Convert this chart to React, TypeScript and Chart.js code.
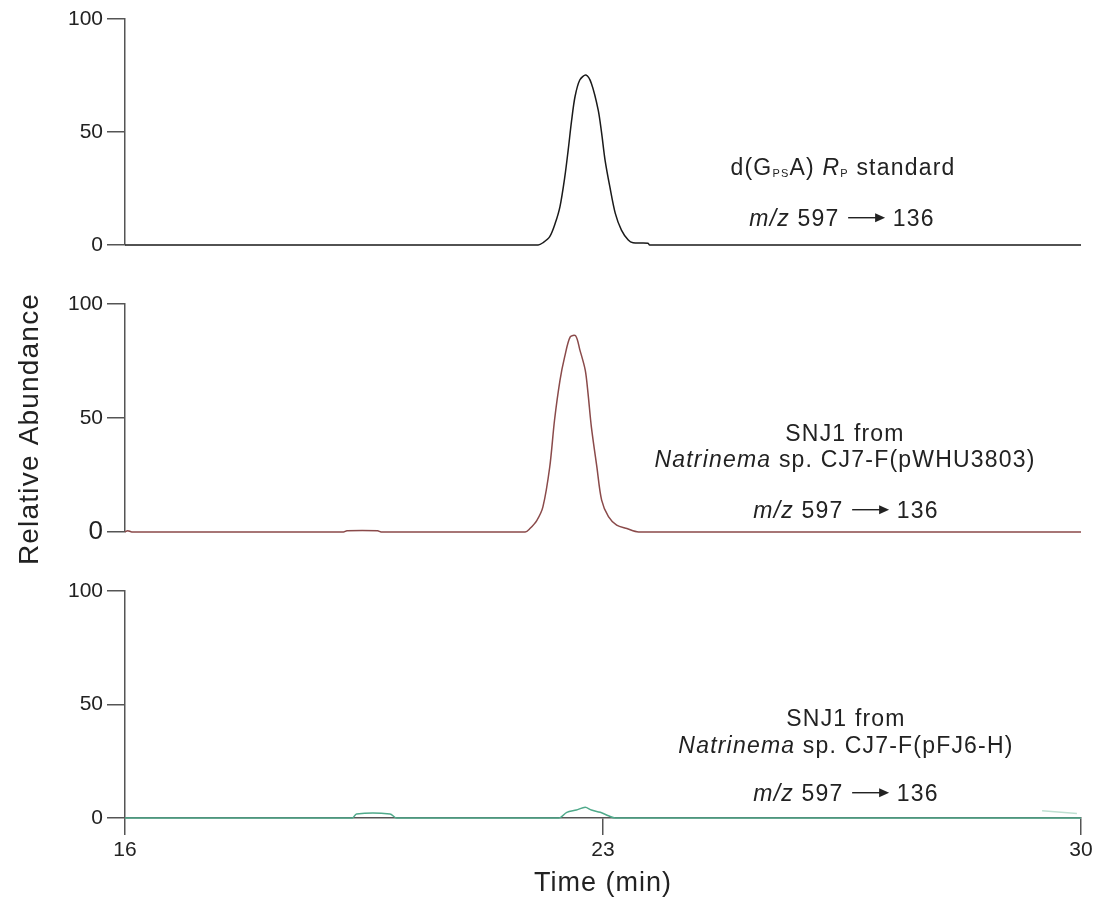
import React, { useEffect, useRef } from "react";
import { Chart, registerables } from "chart.js";

Chart.register(...registerables);

// ---------- data ----------
const xTicks = [16, 23, 30];
const yTicks = [0, 50, 100];

const timeTop = [16, 22.05, 22.12, 22.22, 22.3, 22.37, 22.44, 22.49, 22.54, 22.59, 22.66, 22.75, 22.83, 22.93, 22.98, 23.03, 23.1, 23.18, 23.27, 23.37, 23.44, 23.66, 23.68, 30];
const valTop = [0, 0, 1.0, 3.7, 9.6, 17, 30, 42, 55, 65.6, 73, 75.2, 71.5, 59.7, 49.5, 37.6, 25.8, 14, 6.6, 2.2, 1, 0.8, 0, 0];

const timeMid = [16, 16.04, 16.1, 19.2, 19.25, 19.7, 19.75, 21.86, 21.93, 22.03, 22.12, 22.22, 22.29, 22.37, 22.44, 22.52, 22.6, 22.66, 22.74, 22.78, 22.83, 22.91, 22.98, 23.08, 23.2, 23.35, 23.52, 30];
const valMid = [0, 0.6, 0, 0, 0.5, 0.5, 0, 0, 1.5, 5, 11, 28.5, 49, 66.5, 77, 85.6, 86, 80, 71, 61, 46, 28.6, 14, 6.7, 3, 1.5, 0, 0];

const timeBot = [16, 19.33, 19.39, 19.88, 19.98, 22.35, 22.47, 22.61, 22.74, 22.83, 22.96, 23.08, 23.18, 30];
const valBot = [0, 0, 1.8, 1.8, 0, 0, 2.5, 3.5, 4.7, 3.5, 2.5, 1, 0, 0];

const timeBotTail = [29.43, 29.94];
const valBotTail = [3.2, 2.0];

const FONT = '"Liberation Sans", Arial, Helvetica, sans-serif';
const AXIS = "#555555";
const TEXT = "#222222";

type Seg = { t?: string; it?: boolean; sub?: boolean; arrow?: number };
type Line = { segs: Seg[]; cx: number; y: number; size: number };

const mz = (cx: number, y: number): Line => ({
  cx, y, size: 23,
  segs: [{ t: "m/z", it: true }, { t: " 597 " }, { arrow: 38 }, { t: " 136" }],
});

const topLabels: Line[] = [
  { cx: 843, y: 175, size: 23, segs: [{ t: "d(G" }, { t: "PS", sub: true }, { t: "A) " }, { t: "R", it: true }, { t: "P", sub: true }, { t: " standard" }] },
  mz(842, 226),
];
const midLabels: Line[] = [
  { cx: 845, y: 441, size: 23, segs: [{ t: "SNJ1 from" }] },
  { cx: 845, y: 467, size: 23, segs: [{ t: "Natrinema", it: true }, { t: " sp. CJ7-F(pWHU3803)" }] },
  mz(846, 518),
];
const botLabels: Line[] = [
  { cx: 846, y: 726, size: 23, segs: [{ t: "SNJ1 from" }] },
  { cx: 846, y: 753, size: 23, segs: [{ t: "Natrinema", it: true }, { t: " sp. CJ7-F(pFJ6-H)" }] },
  mz(846, 801),
];

function drawRich(ctx: CanvasRenderingContext2D, line: Line) {
  const { segs, cx, y, size } = line;
  const fontOf = (s: Seg) => `${s.it ? "italic " : ""}${s.sub ? Math.round(size * 0.47) : size}px ${FONT}`;
  ctx.save();
  (ctx as any).letterSpacing = "1.2px";
  const widths = segs.map((s) => {
    if (s.arrow) return s.arrow;
    ctx.font = fontOf(s);
    return ctx.measureText(s.t || "").width;
  });
  const total = widths.reduce((a, b) => a + b, 0);
  let x = cx - total / 2;
  ctx.fillStyle = TEXT;
  ctx.strokeStyle = TEXT;
  ctx.textAlign = "left";
  ctx.textBaseline = "alphabetic";
  segs.forEach((s, i) => {
    const w = widths[i];
    if (s.arrow) {
      const ay = y - size * 0.36;
      ctx.lineWidth = 1.4;
      ctx.beginPath();
      ctx.moveTo(x + 1, ay);
      ctx.lineTo(x + w - 8, ay);
      ctx.stroke();
      ctx.beginPath();
      ctx.moveTo(x + w, ay);
      ctx.lineTo(x + w - 10, ay - 4.5);
      ctx.lineTo(x + w - 10, ay + 4.5);
      ctx.closePath();
      ctx.fill();
    } else {
      ctx.font = fontOf(s);
      ctx.fillText(s.t || "", x, y + (s.sub ? 2 : 0));
    }
    x += w;
  });
  ctx.restore();
}

function textPlugin(lines: Line[], extra?: (ctx: CanvasRenderingContext2D) => void) {
  return {
    id: "annot",
    afterDraw(chart: any) {
      const ctx = chart.ctx as CanvasRenderingContext2D;
      lines.forEach((l) => drawRich(ctx, l));
      if (extra) extra(ctx);
    },
  };
}

function pts(xs: number[], ys: number[]) {
  return xs.map((x, i) => ({ x, y: ys[i] }));
}

function makeConfig(opts: {
  datasets: any[];
  padTop: number;
  padBottom: number;
  showX: boolean;
  zeroBig?: boolean;
  plugin: any;
}) {
  const xScale: any = {
    type: "linear",
    min: 16,
    max: 30,
    display: opts.showX,
    afterBuildTicks: (s: any) => { s.ticks = xTicks.map((v) => ({ value: v })); },
    grid: { drawOnChartArea: false, color: AXIS, lineWidth: 1.5, tickLength: 17 },
    border: { display: true, color: AXIS, width: 1.5 },
    ticks: { color: TEXT, font: { family: FONT, size: 21 }, padding: 3, maxRotation: 0 },
  };
  if (opts.showX) xScale.afterFit = (s: any) => { s.height = 86; };
  return {
    type: "line" as const,
    data: { datasets: opts.datasets.map((d) => ({ clip: false, ...d })) },
    options: {
      responsive: false,
      animation: false,
      layout: { padding: { left: 0, right: 20, top: opts.padTop, bottom: opts.padBottom } },
      plugins: { legend: { display: false }, tooltip: { enabled: false }, title: { display: false } },
      elements: { point: { radius: 0 }, line: { tension: 0.3, borderWidth: 1.5 } },
      scales: {
        x: xScale,
        y: {
          type: "linear",
          min: 0,
          max: 100,
          afterBuildTicks: (s: any) => { s.ticks = yTicks.map((v) => ({ value: v })); },
          afterFit: (s: any) => { s.width = 125; },
          grid: { drawOnChartArea: false, color: AXIS, lineWidth: 1.5, tickLength: 18 },
          border: { display: true, color: AXIS, width: 1.5 },
          ticks: {
            color: TEXT,
            padding: 4,
            font: (c: any) => ({ family: FONT, size: opts.zeroBig && c.tick && c.tick.value === 0 ? 26 : 21 }),
          },
        },
      },
    },
    plugins: [opts.plugin],
  };
}

export default function App() {
  const r1 = useRef<HTMLCanvasElement>(null);
  const r2 = useRef<HTMLCanvasElement>(null);
  const r3 = useRef<HTMLCanvasElement>(null);

  useEffect(() => {
    const charts: Chart[] = [];
    charts.push(
      new Chart(r1.current!, makeConfig({
        datasets: [{ data: pts(timeTop, valTop), borderColor: "#1a1a1a" }],
        padTop: 19,
        padBottom: 904 - 245,
        showX: false,
        plugin: textPlugin(topLabels),
      }) as any)
    );
    charts.push(
      new Chart(r2.current!, makeConfig({
        datasets: [{ data: pts(timeMid, valMid), borderColor: "#8a4a4a" }],
        padTop: 304,
        padBottom: 904 - 532,
        showX: false,
        zeroBig: true,
        plugin: textPlugin(midLabels, (ctx) => {
          ctx.save();
          (ctx as any).letterSpacing = "1.2px";
          ctx.translate(30, 429);
          ctx.rotate(-Math.PI / 2);
          ctx.fillStyle = TEXT;
          ctx.font = `28px ${FONT}`;
          ctx.textAlign = "center";
          ctx.textBaseline = "middle";
          ctx.fillText("Relative Abundance", 0, 0);
          ctx.restore();
        }),
      }) as any)
    );
    charts.push(
      new Chart(r3.current!, makeConfig({
        datasets: [
          { data: pts(timeBot, valBot), borderColor: "#4fa98a" },
          { data: pts(timeBotTail, valBotTail), borderColor: "#bfe0d2", tension: 0 },
        ],
        padTop: 591,
        padBottom: 0,
        showX: true,
        plugin: textPlugin(botLabels, (ctx) => {
          ctx.save();
          (ctx as any).letterSpacing = "1px";
          ctx.fillStyle = TEXT;
          ctx.font = `27px ${FONT}`;
          ctx.textAlign = "center";
          ctx.textBaseline = "middle";
          ctx.fillText("Time (min)", 603, 884);
          ctx.restore();
        }),
      }) as any)
    );
    return () => charts.forEach((c) => c.destroy());
  }, []);

  const cs: React.CSSProperties = { position: "absolute", left: 0, top: 0 };
  return (
    <div style={{ position: "fixed", left: 0, top: 0, width: 1101, height: 904, background: "#fff" }}>
      <canvas ref={r1} width={1101} height={904} style={cs} />
      <canvas ref={r2} width={1101} height={904} style={cs} />
      <canvas ref={r3} width={1101} height={904} style={cs} />
    </div>
  );
}
